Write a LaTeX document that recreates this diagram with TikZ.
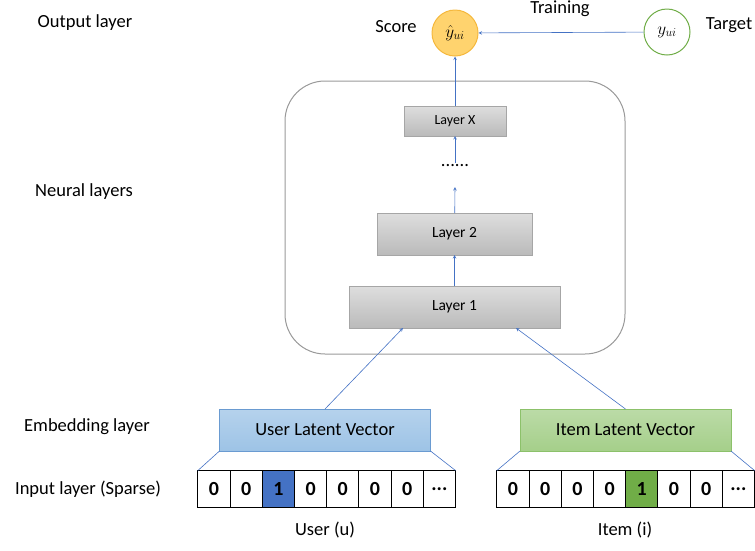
\documentclass[tikz,border=0pt]{standalone}
\usepackage{fontspec}
\setmainfont{Carlito}
\usepackage{amsmath}
\usetikzlibrary{positioning}
\definecolor{arrowblue}{HTML}{4472C4}
\definecolor{scorefill}{HTML}{FFD36E}
\definecolor{scoreline}{HTML}{F5B83D}
\definecolor{targetline}{HTML}{70AD47}
\definecolor{userfill}{HTML}{9DC3E6}
\definecolor{userline}{HTML}{6A9BD1}
\definecolor{itemfill}{HTML}{A5CF8A}
\definecolor{itemline}{HTML}{8CC16A}
\tikzset{
every path/.style={line width=0.5pt}
, x=1pt, y=-1pt
, every node/.style={font=\fontsize{18.5}{22}\selectfont}
, sidelabel/.style={anchor=center}
, conn/.style={color=arrowblue, line width=0.6pt}
, layerbox/.style={draw=black!35, top color=black!13, bottom color=black!27, inner sep=0, outer sep=0}
, latentbox/.style={minimum width=211, minimum height=42, inner sep=0, outer sep=0}
, cell/.style={draw, line width=1.1pt, minimum width=32.2, minimum height=37, inner sep=0, outer sep=0, font=\fontsize{20}{22}\selectfont\bfseries}
, outcircle/.style={circle, minimum size=46, inner sep=0, line width=1pt}}

\begin{document}
\begin{tikzpicture}
\useasboundingbox (0,0) rectangle (755,550);
% row labels
\node[sidelabel] at (85,23) (outl) {Output layer};
\node[sidelabel] at (84,192) (neul) {Neural layers};
\node[sidelabel] at (87,427) (embl) {Embedding layer};
\node[sidelabel] at (88,489) (inpl) {Input layer (Sparse)};
% output
\node[outcircle, draw=scoreline, fill=scorefill] at (455,33) (score) {$\hat{y}_{ui}$};
\node[outcircle, draw=targetline, fill=white] at (667,32) (target) {$y_{ui}$};
\node at (396,27) (scorel) {Score};
\node at (729,25) (targetl) {Target};
\node at (560,9) (train) {Training};
% neural layers
\node[draw=black!40, line width=1pt, rounded corners=40, minimum width=340, minimum height=273] at (455,217.5) (nn) {};
\node[layerbox, minimum width=102, minimum height=30, font=\fontsize{14}{16}\selectfont] at (455,121) (lx) {Layer X};
\node at (455,166) (dots) {......};
\node[layerbox, minimum width=155, minimum height=42, font=\fontsize{15.5}{18}\selectfont] at (454.5,234) (l2) {Layer 2};
\node[layerbox, minimum width=211, minimum height=42, font=\fontsize{15.5}{18}\selectfont] at (454.5,307) (l1) {Layer 1};
\coordinate (dtop) at (455,163);
\coordinate (dbot) at (455,187);
% embedding
\node[latentbox, draw=userline, top color=userfill!75, bottom color=userfill] at (325,430) (ulv) {User Latent Vector};
\node[latentbox, draw=itemline, top color=itemfill!75, bottom color=itemfill] at (625.5,430) (ilv) {Item Latent Vector};
% sparse input, user
\node[cell] at (214,489) (u1) {0};
\node[cell, right=0 of u1] (u2) {0};
\node[cell, right=0 of u2, fill=arrowblue] (u3) {1};
\node[cell, right=0 of u3] (u4) {0};
\node[cell, right=0 of u4] (u5) {0};
\node[cell, right=0 of u5] (u6) {0};
\node[cell, right=0 of u6] (u7) {0};
\node[cell, right=0 of u7] (u8) {...};
% sparse input, item
\node[cell] at (513,489) (i1) {0};
\node[cell, right=0 of i1] (i2) {0};
\node[cell, right=0 of i2] (i3) {0};
\node[cell, right=0 of i3] (i4) {0};
\node[cell, right=0 of i4, fill=targetline] (i5) {1};
\node[cell, right=0 of i5] (i6) {0};
\node[cell, right=0 of i6] (i7) {0};
\node[cell, right=0 of i7] (i8) {...};
\node at (325,530) (userl) {User (u)};
\node at (625,530) (iteml) {Item (i)};
% connectors
\draw[conn, -stealth] (target) -- (score);
\draw[conn, -stealth] (lx) -- (score);
\draw[conn, -stealth] (dtop) -- (lx);
\draw[conn, -stealth] (l2) -- (dbot);
\draw[conn, -stealth] (l1) -- (l2);
\draw[conn, -stealth] (ulv.north) -- ([xshift=54]l1.south west);
\draw[conn, -stealth] (ilv.north) -- ([xshift=-44]l1.south east);
\draw[conn] (ulv.south west) -- (u1.north west);
\draw[conn] (ulv.south east) -- (u8.north east);
\draw[conn] (ilv.south west) -- (i1.north west);
\draw[conn] (ilv.south east) -- (i8.north east);
\end{tikzpicture}
\end{document}
